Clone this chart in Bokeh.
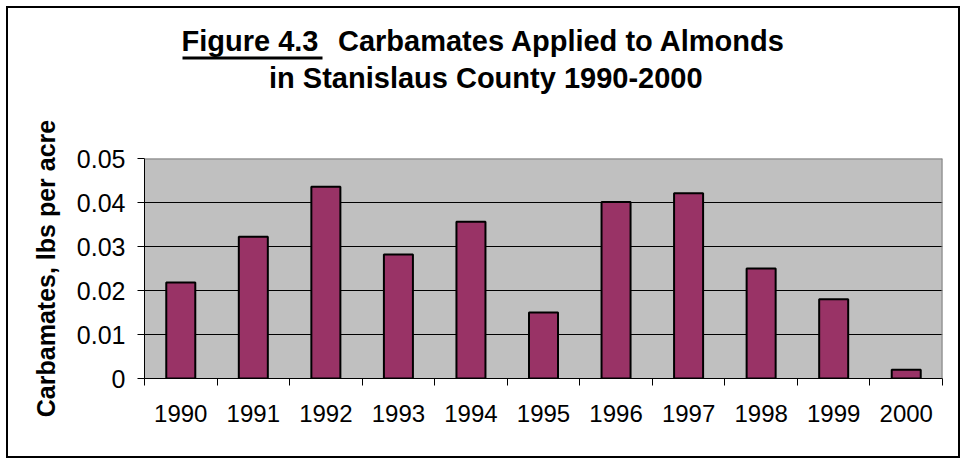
import numpy as np
from bokeh.plotting import figure
from bokeh.layouts import column
from bokeh.models import Range1d, FixedTicker, Label, Span, BoxAnnotation
from bokeh.embed import file_html
from bokeh.resources import INLINE

# ---- data ----
years = ["1990", "1991", "1992", "1993", "1994", "1995",
         "1996", "1997", "1998", "1999", "2000"]
carbamates = [0.0218, 0.0322, 0.0436, 0.0282, 0.0356, 0.0150,
              0.0401, 0.0421, 0.0250, 0.0180, 0.0020]
y_ticks = [0.0, 0.01, 0.02, 0.03, 0.04, 0.05]
y_tick_labels = ["0", "0.01", "0.02", "0.03", "0.04", "0.05"]
title_part1 = "Figure 4.3"
title_part2 = "Carbamates Applied to Almonds"
title_line2 = "in Stanislaus County 1990-2000"
y_label = "Carbamates, lbs per acre"

FONT = "Liberation Sans"
BAR_COLOR = "#993366"

W, H = 963, 459
TITLE_H = 100
n = len(years)
xs = np.arange(n) + 0.5

# ---------- title strip (its frame covers its whole canvas) ----------
t = figure(width=W, height=TITLE_H, output_backend="svg", toolbar_location=None,
           x_range=Range1d(0, W), y_range=Range1d(TITLE_H, 0),
           x_axis_location=None, y_axis_location=None, min_border=0, title=None)
t.xgrid.visible = False
t.ygrid.visible = False
t.outline_line_color = None
t.background_fill_alpha = 0
t.border_fill_alpha = 0

def title_label(text, x, y, align):
    return Label(x=x, y=y, x_units="canvas", y_units="canvas", text=text,
                 text_font=FONT, text_font_size="29px", text_font_style="bold",
                 text_align=align, text_baseline="alphabetic",
                 text_color="black")

t.add_layout(title_label(title_part1, 181, 40, "left"))
t.add_layout(title_label(title_part2, 337.5, 40, "left"))
t.add_layout(title_label(title_line2, 485.3, 77, "center"))
# underline of "Figure 4.3"
t.add_layout(BoxAnnotation(left=182, right=322, top=56, bottom=59,
                           left_units="canvas", right_units="canvas",
                           top_units="canvas", bottom_units="canvas",
                           fill_color="black", fill_alpha=1.0, line_color=None))

# ---------- chart ----------
p = figure(width=W, height=H - TITLE_H, output_backend="svg", toolbar_location=None,
           x_range=Range1d(0, n), y_range=Range1d(0, y_ticks[-1]),
           min_border_left=144, min_border_right=21,
           min_border_top=158 - TITLE_H, min_border_bottom=81, title=None)
p.background_fill_color = "#C0C0C0"
p.border_fill_alpha = 0
p.outline_line_color = None

# bars
p.vbar(x=xs, top=carbamates, width=0.4, fill_color=BAR_COLOR,
       line_color="black", line_width=2)

# x axis: labels at centers, tick marks at category boundaries
xa = p.xaxis[0]
xa.ticker = FixedTicker(ticks=list(xs), minor_ticks=list(range(n + 1)))
xa.major_label_overrides = {float(x): y for x, y in zip(xs, years)}
xa.major_tick_line_color = None
xa.major_tick_out = 7
xa.major_tick_in = 0
xa.minor_tick_line_color = "black"
xa.minor_tick_out = 7
xa.minor_tick_in = 0
xa.axis_line_color = "black"
xa.major_label_text_font = FONT
xa.major_label_text_font_size = "24px"
xa.major_label_text_color = "black"
xa.major_label_standoff = 19

# y axis
ya = p.yaxis[0]
ya.ticker = FixedTicker(ticks=y_ticks, minor_ticks=[])
ya.major_label_overrides = {float(v): l for v, l in zip(y_ticks, y_tick_labels)}
ya.major_tick_out = 7
ya.major_tick_in = 0
ya.major_tick_line_color = "black"
ya.axis_line_color = "black"
ya.major_label_text_font = FONT
ya.major_label_text_font_size = "25px"
ya.major_label_text_color = "black"
ya.major_label_standoff = 12
ya.axis_label = y_label
ya.axis_label_text_font = FONT
ya.axis_label_text_font_size = "25px"
ya.axis_label_text_font_style = "bold"
ya.axis_label_text_color = "black"
ya.axis_label_standoff = 14

# grid
p.xgrid.visible = False
p.ygrid.ticker = FixedTicker(ticks=y_ticks)
p.ygrid.grid_line_color = "black"
p.ygrid.grid_line_width = 1

# top / right frame border (grey)
p.add_layout(Span(location=y_ticks[-1], dimension="width",
                  line_color="#808080", line_width=2))
p.add_layout(Span(location=n, dimension="height",
                  line_color="#808080", line_width=2))

layout = column(t, p, spacing=0)

# outer chart border drawn with CSS on the layout element
line = "linear-gradient(#000,#000)"
layout.styles = {
    "background": ", ".join([
        f"{line} 6px 6px / 954px 2px no-repeat",
        f"{line} 6px 456px / 954px 2px no-repeat",
        f"{line} 6px 6px / 2px 452px no-repeat",
        f"{line} 958px 6px / 2px 452px no-repeat",
    ]) + ", white",
}

open("out.html", "w").write(file_html(layout, INLINE))
